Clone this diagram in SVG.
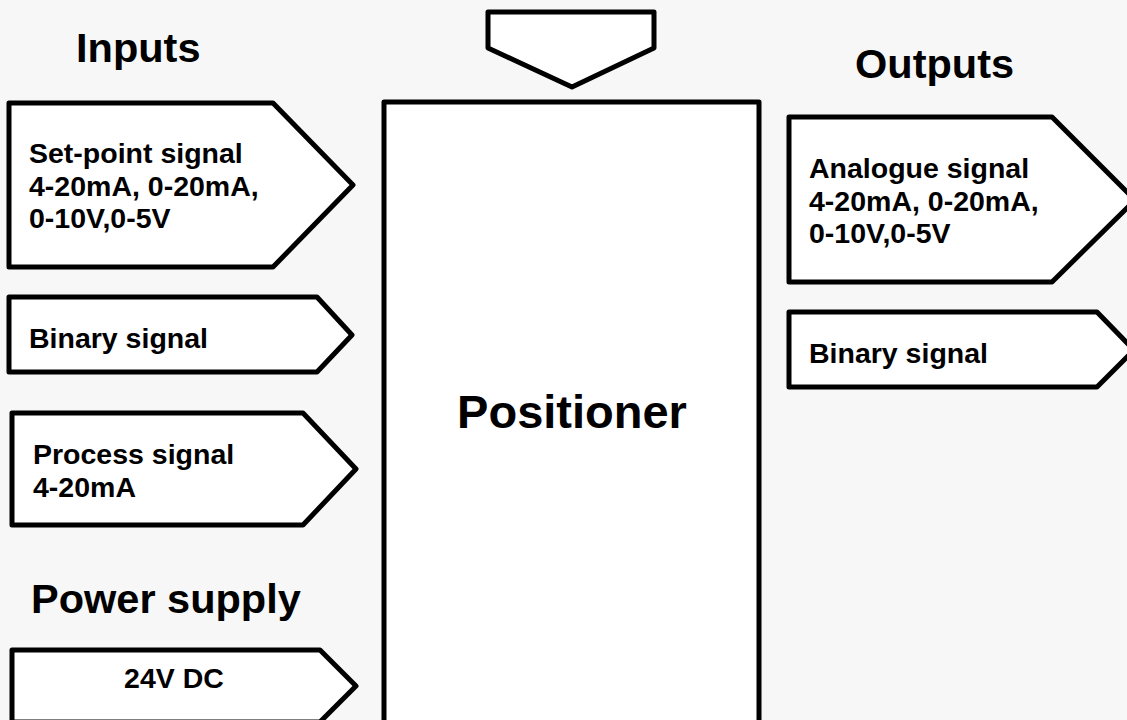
<svg xmlns="http://www.w3.org/2000/svg" width="1127" height="720" viewBox="0 0 1127 720">
<style>
.shape{fill:#ffffff;stroke:#000000;stroke-width:5;stroke-linejoin:round}
text{font-family:"Liberation Sans",Arial,sans-serif;font-weight:bold;fill:#000000}
.hdr{font-size:41.5px}
.lbl{font-size:28.5px}
.big{font-size:47px}
</style>
<rect x="0" y="0" width="1127" height="720" fill="#f7f7f7"/>
<text class="hdr" x="76" y="62">Inputs</text>
<text class="hdr" x="855" y="78">Outputs</text>
<text class="hdr" x="31" y="613">Power supply</text>
<g id="top-input">
<polygon class="shape" points="488,12 654,12 654,48 572,87 488,48"/>
</g>
<g id="positioner">
<rect class="shape" x="384" y="102" width="375" height="640"/>
<text class="big" x="572" y="428" text-anchor="middle">Positioner</text>
</g>
<g id="setpoint">
<polygon class="shape" points="9,103 273,103 353,185 273,267 9,267"/>
<text class="lbl" x="29" y="163">Set-point signal</text>
<text class="lbl" x="29" y="196">4-20mA, 0-20mA,</text>
<text class="lbl" x="29" y="228">0-10V,0-5V</text>
</g>
<g id="binary-in">
<polygon class="shape" points="9,297 317,297 352,335 317,372 9,372"/>
<text class="lbl" x="29" y="348">Binary signal</text>
</g>
<g id="process">
<polygon class="shape" points="12,413 303,413 356,469 303,525 12,525"/>
<text class="lbl" x="33" y="464">Process signal</text>
<text class="lbl" x="33" y="497">4-20mA</text>
</g>
<g id="power">
<polygon class="shape" points="12,650 320,650 356,686 320,722 12,722"/>
<text class="lbl" x="174" y="688" text-anchor="middle">24V DC</text>
</g>
<g id="analogue-out">
<polygon class="shape" points="789,117 1052,117 1135,200 1052,282 789,282"/>
<text class="lbl" x="809" y="178">Analogue signal</text>
<text class="lbl" x="809" y="211">4-20mA, 0-20mA,</text>
<text class="lbl" x="809" y="243">0-10V,0-5V</text>
</g>
<g id="binary-out">
<polygon class="shape" points="789,312 1097,312 1134,350 1097,387 789,387"/>
<text class="lbl" x="809" y="363">Binary signal</text>
</g>
<g id="connectors"></g>
</svg>
